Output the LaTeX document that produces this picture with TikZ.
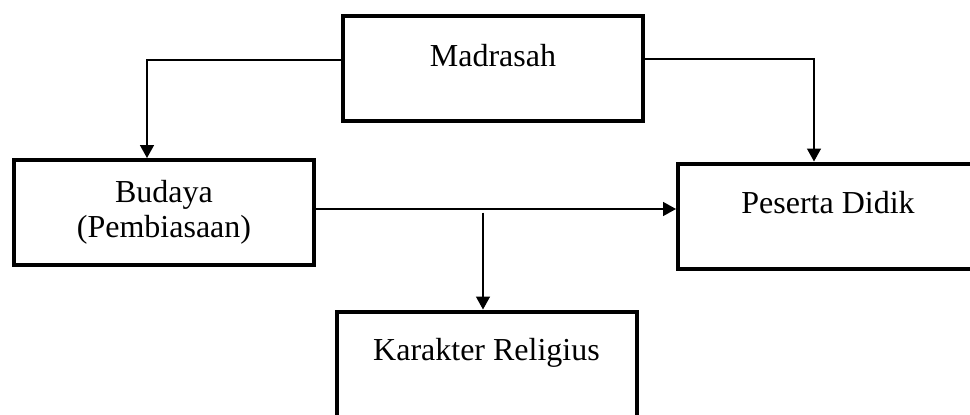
\documentclass[tikz,border=0pt]{standalone}
\usepackage{fontspec}
\setmainfont{Liberation Serif}
\usetikzlibrary{arrows.meta}
\tikzstyle{box}=[draw, line width=4pt, minimum width=300pt, minimum height=105pt, align=center, font=\fontsize{32}{35}\selectfont]
\tikzstyle{raised}=[text depth=27pt]
\tikzset{link/.style={line width=1.5pt}}
\tikzset{flow/.style={link,-{Triangle[length=13pt,width=14pt]}}}

\begin{document}
\begin{tikzpicture}[x=1pt,y=-1pt]
  \useasboundingbox (0,0) rectangle (970,415);

  \draw (493,68.5) node[box,raised] (madrasah) {Madrasah};
  \draw (164,212.5) node[box] (budaya) {Budaya\\(Pembiasaan)};
  \draw (828,216) node[box,raised,text depth=28pt] (peserta) {Peserta Didik};
  \draw (486.5,364) node[box,raised,text depth=30pt] (karakter) {Karakter Religius};

  %% From the madrasah
  \draw[flow] ([yshift=8.5pt]madrasah.west) -| ([xshift=-17pt]budaya.north);
  \draw[flow] ([yshift=9.5pt]madrasah.east) -| ([xshift=-14pt]peserta.north);

  %% Habits
  \draw[flow] ([yshift=3.5pt]budaya.east) -- ([yshift=3.5pt]budaya.east -| peserta.west);
  \draw[flow] ([xshift=-3.5pt]karakter.north |- budaya.east) -- ([xshift=-3.5pt]karakter.north);
\end{tikzpicture}
\end{document}
